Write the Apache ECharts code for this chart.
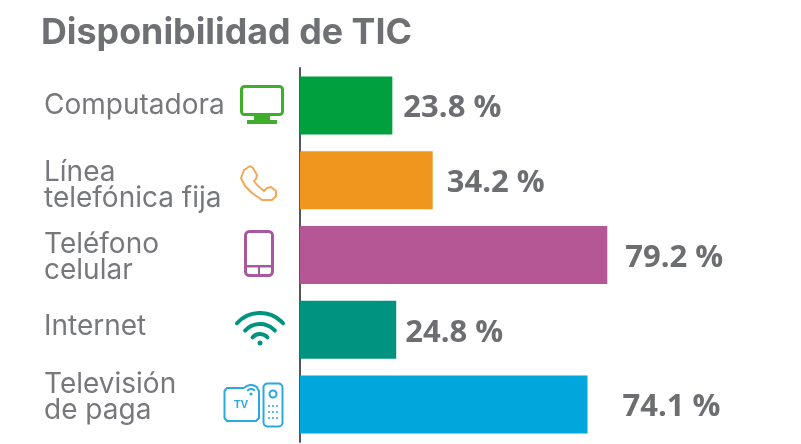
<!DOCTYPE html>
<html><head><meta charset="utf-8">
<style>html,body{margin:0;padding:0;background:#fff}#c{width:801px;height:444px}</style>
<script src="https://cdn.jsdelivr.net/npm/echarts@6/dist/echarts.min.js"></script>
</head><body><div id="c"></div>
<script>
const titleText = 'Disponibilidad de TIC';
const categories = ['Computadora', 'Línea\ntelefónica fija', 'Teléfono\ncelular', 'Internet', 'Televisión\nde paga'];
const values = [23.8, 34.2, 79.2, 24.8, 74.1];
const barColors = ['#00a03e', '#f0951e', '#b55795', '#009480', '#00a6dc'];
const labelGaps = [11, 14, 18, 9, 35];
const spacerBefore = [0, 10, 6, 0, 0];
const spacerAfter = [0, 0, 0, 6, 14];

const textGrey = '#77787c';
const chart = echarts.init(document.getElementById('c'), null, {renderer: 'canvas'});
const rad = d => d * Math.PI / 180;
const handset = [[244,170],[250,166],[253,168],[257,175],[256,179],[254,181],[258,186],[264,191],[267,188],[271,187],[276,191],[276,196],[272,200],[262,200],[252,193],[245,186],[241,178]];
const tvBox = [[244,388],[227,388],[224.5,391],[224.5,418],[227,421],[256,421],[259,418],[259,391],[257,388]];
const icons = [
  {type:'rect', shape:{x:241.5,y:86.5,width:41,height:28,r:3}, style:{fill:'none',stroke:'#3fae2a',lineWidth:3}},
  {type:'rect', shape:{x:254,y:115,width:16,height:5}, style:{fill:'#3fae2a'}},
  {type:'rect', shape:{x:247,y:120,width:30,height:4}, style:{fill:'#3fae2a'}},
  {type:'polygon', shape:{points:handset}, style:{fill:'none',stroke:'#f4a857',lineWidth:2,lineJoin:'round'}},
  {type:'rect', shape:{x:245.5,y:231.5,width:27,height:44,r:4}, style:{fill:'none',stroke:'#a9589f',lineWidth:3}},
  {type:'rect', shape:{x:245,y:265,width:28,height:2.5}, style:{fill:'#a9589f'}},
  {type:'rect', shape:{x:258,y:267,width:2,height:8}, style:{fill:'#a9589f'}},
  ...[31, 20, 10].map(r => ({type:'arc', shape:{cx:260,cy:344,r,startAngle:rad(-138),endAngle:rad(-42),clockwise:true}, style:{fill:'none',stroke:'#00947f',lineWidth:4,lineCap:'round'}})),
  {type:'circle', shape:{cx:260,cy:343,r:2.5}, style:{fill:'#00947f'}},
  {type:'polyline', shape:{points:tvBox}, style:{fill:'none',stroke:'#2aa9e0',lineWidth:2,lineJoin:'round'}},
  {type:'rect', shape:{x:263.5,y:383.5,width:19,height:43,r:4}, style:{fill:'none',stroke:'#2aa9e0',lineWidth:2}},
  {type:'circle', shape:{cx:273,cy:394,r:3.5}, style:{fill:'none',stroke:'#2aa9e0',lineWidth:2}},
  ...[[269,406],[273,406],[277,406],[269,412],[273,412],[277,412],[269,418],[273,418],[277,418]].map(p => ({type:'circle', shape:{cx:p[0],cy:p[1],r:1}, style:{fill:'#2aa9e0'}})),
  ...[9, 5].map(r => ({type:'arc', shape:{cx:251,cy:394,r,startAngle:rad(-140),endAngle:rad(-40),clockwise:true}, style:{fill:'none',stroke:'#2aa9e0',lineWidth:2}})),
  {type:'circle', shape:{cx:251,cy:394,r:1.5}, style:{fill:'#2aa9e0'}},
  {type:'text', x:241, y:405, style:{text:'TV',fill:'#2aa9e0',font:'bold 11px "Liberation Sans"',align:'center',verticalAlign:'middle'}}
];

const rich = {t:{fontFamily:'Inter',fontSize:28,lineHeight:26,color:textGrey,align:'left'}};
spacerBefore.concat(spacerAfter).forEach(h => { if (h) rich['s'+h] = {fontSize:1,lineHeight:h}; });

chart.setOption({
  animation:false,
  backgroundColor:'#fff',
  title:{text:titleText,left:41,top:15,padding:0,textStyle:{fontFamily:'Inter',fontWeight:'bold',fontSize:35.8,color:'#6f7074'}},
  grid:{left:300,top:68,width:388,height:374},
  xAxis:{type:'value',min:0,max:100,show:false},
  yAxis:{type:'category',inverse:true,data:categories,
    axisLine:{show:true,lineStyle:{color:'#55565a',width:2}},
    axisTick:{show:false},splitLine:{show:false},
    axisLabel:{align:'left',margin:256,rich,interval:0,
      formatter:(v,i)=>{
        const lines=v.split('\n').map(l=>`{t|${l}}`);
        if(spacerBefore[i]) lines.unshift(`{s${spacerBefore[i]}| }`);
        if(spacerAfter[i]) lines.push(`{s${spacerAfter[i]}| }`);
        return lines.join('\n');
      }}},
  series:[{type:'bar',barWidth:58,
    data:values.map((v,i)=>({value:v,itemStyle:{color:barColors[i]},
      label:{show:true,position:'right',distance:labelGaps[i],offset:[0,3],formatter:p=>p.value.toFixed(1)+' %',
        fontFamily:'Open Sans',fontWeight:'bold',fontSize:31,color:'#6d6e71'}}))}],
  graphic:{elements:icons.map(o=>({...o,silent:true}))}
});
</script></body></html>
